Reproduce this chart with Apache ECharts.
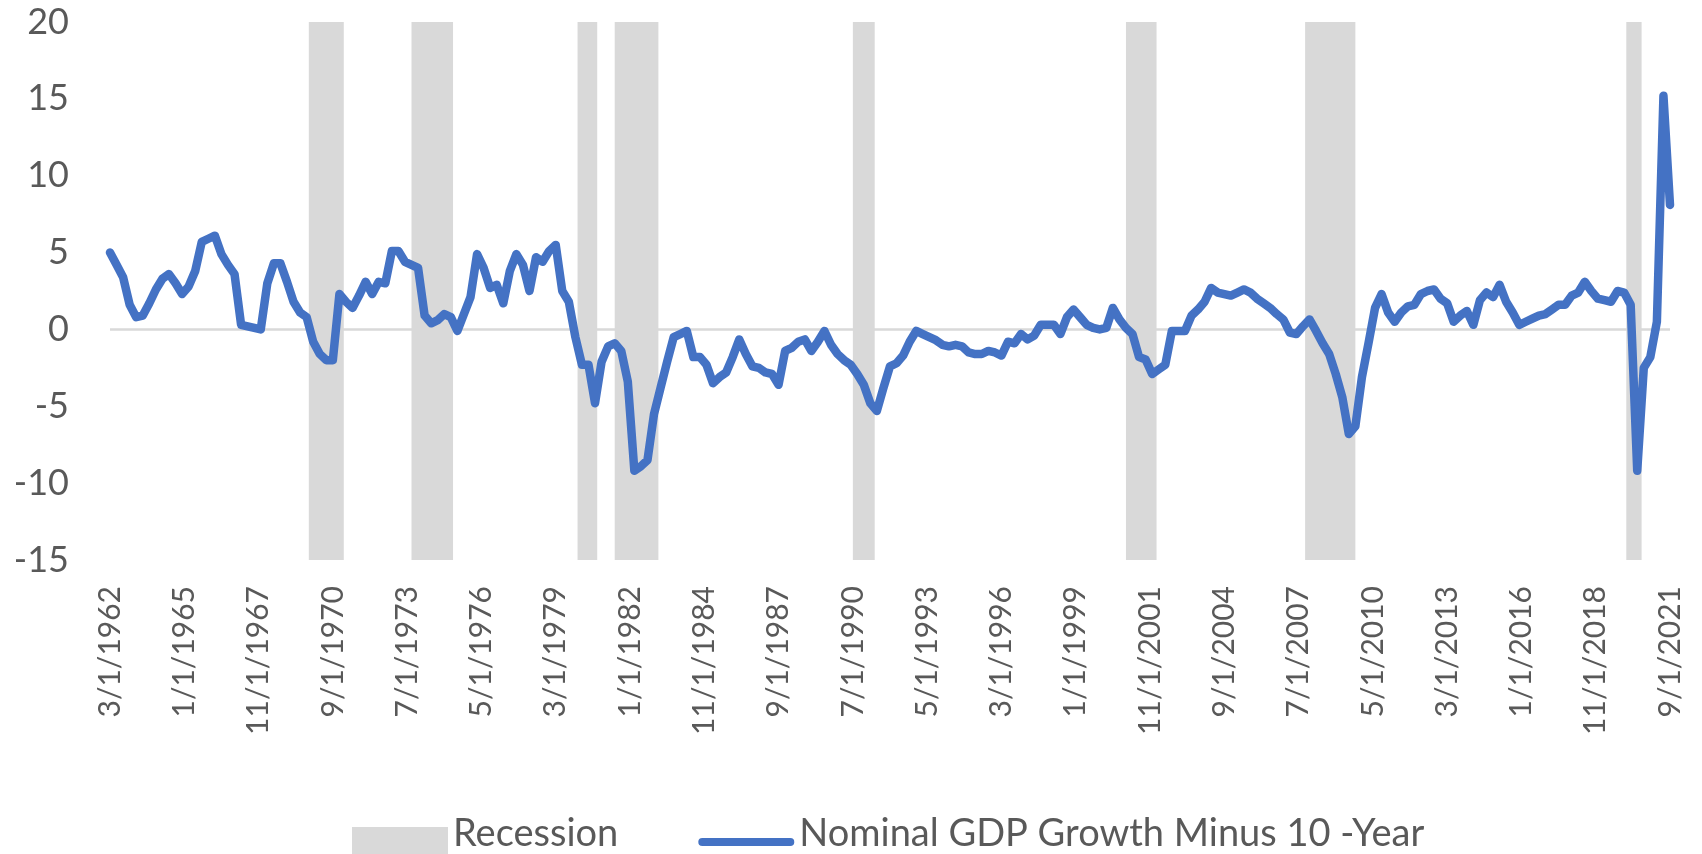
<!DOCTYPE html>
<html>
<head>
<meta charset="utf-8">
<title>Nominal GDP Growth Minus 10-Year</title>
<script src="https://cdn.jsdelivr.net/npm/echarts@6/dist/echarts.min.js"></script>
<style>
  html, body { margin: 0; padding: 0; background: #fff; }
  #chart { width: 1702px; height: 854px; }
</style>
</head>
<body>
<div id="chart"></div>
<script>
// quarterly series, first point 3/1/1962, one value every 3 months
const firstDate = '3/1/1962'
const gdpMinus10y = [
  5.0, 4.2, 3.4, 1.6, 0.8, 0.9, 1.7, 2.6, 3.3, 3.6,
  3.0, 2.3, 2.8, 3.8, 5.7, 5.9, 6.1, 4.9, 4.2, 3.6,
  0.3, 0.2, 0.1, 0.0, 3.0, 4.3, 4.3, 3.1, 1.8, 1.1,
  0.8, -0.8, -1.6, -2.0, -2.0, 2.3, 1.8, 1.4, 2.2, 3.1,
  2.3, 3.1, 3.0, 5.1, 5.1, 4.4, 4.2, 4.0, 0.9, 0.4,
  0.6, 1.0, 0.8, -0.1, 1.0, 2.1, 4.9, 4.0, 2.7, 2.9,
  1.7, 3.8, 4.9, 4.2, 2.5, 4.7, 4.4, 5.1, 5.5, 2.5,
  1.8, -0.5, -2.3, -2.3, -4.8, -2.1, -1.1, -0.9, -1.4, -3.4,
  -9.2, -8.9, -8.5, -5.5, -3.8, -2.1, -0.5, -0.3, -0.1, -1.8,
  -1.8, -2.3, -3.5, -3.1, -2.8, -1.8, -0.65, -1.6, -2.4, -2.5,
  -2.8, -2.9, -3.6, -1.4, -1.2, -0.8, -0.65, -1.4, -0.8, -0.1,
  -1.0, -1.6, -2.0, -2.3, -2.9, -3.6, -4.8, -5.3, -3.8, -2.4,
  -2.2, -1.7, -0.8, -0.1, -0.3, -0.5, -0.7, -1.0, -1.1, -1.0,
  -1.1, -1.5, -1.6, -1.6, -1.4, -1.5, -1.7, -0.8, -0.9, -0.3,
  -0.65, -0.4, 0.3, 0.3, 0.3, -0.3, 0.8, 1.3, 0.8, 0.3,
  0.1, 0.0, 0.1, 1.4, 0.65, 0.1, -0.3, -1.8, -1.95, -2.9,
  -2.6, -2.3, -0.1, -0.1, -0.1, 0.9, 1.3, 1.8, 2.7, 2.4,
  2.3, 2.2, 2.4, 2.6, 2.4, 2.0, 1.7, 1.4, 1.0, 0.65,
  -0.2, -0.3, 0.2, 0.65, -0.1, -0.9, -1.6, -2.9, -4.4, -6.8,
  -6.3, -3.1, -0.9, 1.4, 2.3, 1.1, 0.5, 1.1, 1.5, 1.6,
  2.3, 2.5, 2.6, 2.0, 1.7, 0.5, 0.9, 1.2, 0.3, 1.9,
  2.4, 2.1, 2.9, 1.8, 1.1, 0.3, 0.5, 0.7, 0.9, 1.0,
  1.3, 1.6, 1.6, 2.2, 2.4, 3.1, 2.5, 2.0, 1.9, 1.8,
  2.5, 2.4, 1.6, -9.2, -2.5, -1.8, 0.5, 15.2, 8.1
]

// shaded recession periods (start / end)
const recessionStart = ['10/1/1969', '9/1/1973', '1/1/1980', '6/1/1981', '7/1/1990', '12/1/2000', '10/1/2007', '1/1/2020']
const recessionEnd   = ['2/1/1971', '4/1/1975', '10/1/1980', '2/1/1983', '5/1/1991', '2/1/2002', '9/1/2009', '8/1/2020']

// x axis runs in months counted from firstDate
const axisStart = '3/1/1962'
const axisEnd = '9/1/2021'
const labelStep = 34

function monthIndex(str) {
  const [m, d, y] = str.split('/').map(Number)
  const [m0, , y0] = firstDate.split('/').map(Number)
  return (y - y0) * 12 + (m - m0) + (d - 1) / 30
}

function monthToLabel(idx) {
  const m0 = Number(firstDate.split('/')[0])
  const y0 = Number(firstDate.split('/')[2])
  const total = m0 - 1 + Math.round(idx)
  return (total % 12 + 1) + '/1/' + (y0 + Math.floor(total / 12))
}

const linePoints = gdpMinus10y.map((v, i) => [i * 3, v])
const recessionAreas = recessionStart.map((s, i) => [
  { xAxis: monthIndex(s) },
  { xAxis: monthIndex(recessionEnd[i]) }
])

const textColor = '#595959'
const fontFamily = 'Lato, "Open Sans", sans-serif'

// legend swatches drawn a bit below the box centre so the text lines up with them
// (the zero-length "M0,0 L0,0" keeps the top of the bounding box)
const recessionIcon = 'path://M0,0 L0,0 M0,16 H96 V46 H0 Z'
const lineIcon = 'path://M0,0 L0,0 M0,46 L0,46 M4,27 H92 A4,4 0 0 1 92,35 H4 A4,4 0 0 1 4,27 Z'

const chart = echarts.init(document.getElementById('chart'))
chart.setOption({
  animation: false,
  backgroundColor: '#ffffff',
  textStyle: { fontFamily: fontFamily },
  grid: { left: 110, right: 32, top: 22, bottom: 294 },
  legend: {
    left: 347,
    top: 806,
    itemWidth: 96,
    itemHeight: 46,
    itemGap: 80,
    textStyle: { color: textColor, fontSize: 38, fontFamily: fontFamily },
    data: [
      { name: 'Recession', icon: recessionIcon },
      { name: 'Nominal GDP Growth Minus 10 -Year', icon: lineIcon }
    ]
  },
  xAxis: {
    type: 'value',
    min: monthIndex(axisStart),
    max: monthIndex(axisEnd),
    interval: labelStep,
    axisLine: { show: false },
    axisTick: { show: false },
    splitLine: { show: false },
    axisLabel: {
      rotate: 90,
      margin: 26,
      color: textColor,
      fontSize: 30,
      showMinLabel: true,
      showMaxLabel: true,
      formatter: v => monthToLabel(v)
    }
  },
  yAxis: {
    type: 'value',
    min: -15,
    max: 20,
    interval: 5,
    axisLine: { show: false },
    axisTick: { show: false },
    splitLine: { show: false },
    axisLabel: { color: textColor, fontSize: 36, margin: 41 }
  },
  series: [
    {
      name: 'Recession',
      type: 'line',
      data: [],
      color: '#D9D9D9',
      silent: true,
      markArea: {
        silent: true,
        itemStyle: { color: '#D9D9D9', opacity: 1 },
        data: recessionAreas
      },
      // horizontal axis line sits at zero
      markLine: {
        silent: true,
        symbol: 'none',
        label: { show: false },
        lineStyle: { color: '#D9D9D9', width: 2.5, type: 'solid' },
        data: [{ yAxis: 0 }]
      }
    },
    {
      name: 'Nominal GDP Growth Minus 10 -Year',
      type: 'line',
      data: linePoints,
      color: '#4472C4',
      showSymbol: false,
      z: 5,
      lineStyle: { width: 8.5, color: '#4472C4', join: 'round', cap: 'round' }
    }
  ]
})
</script>
</body>
</html>
